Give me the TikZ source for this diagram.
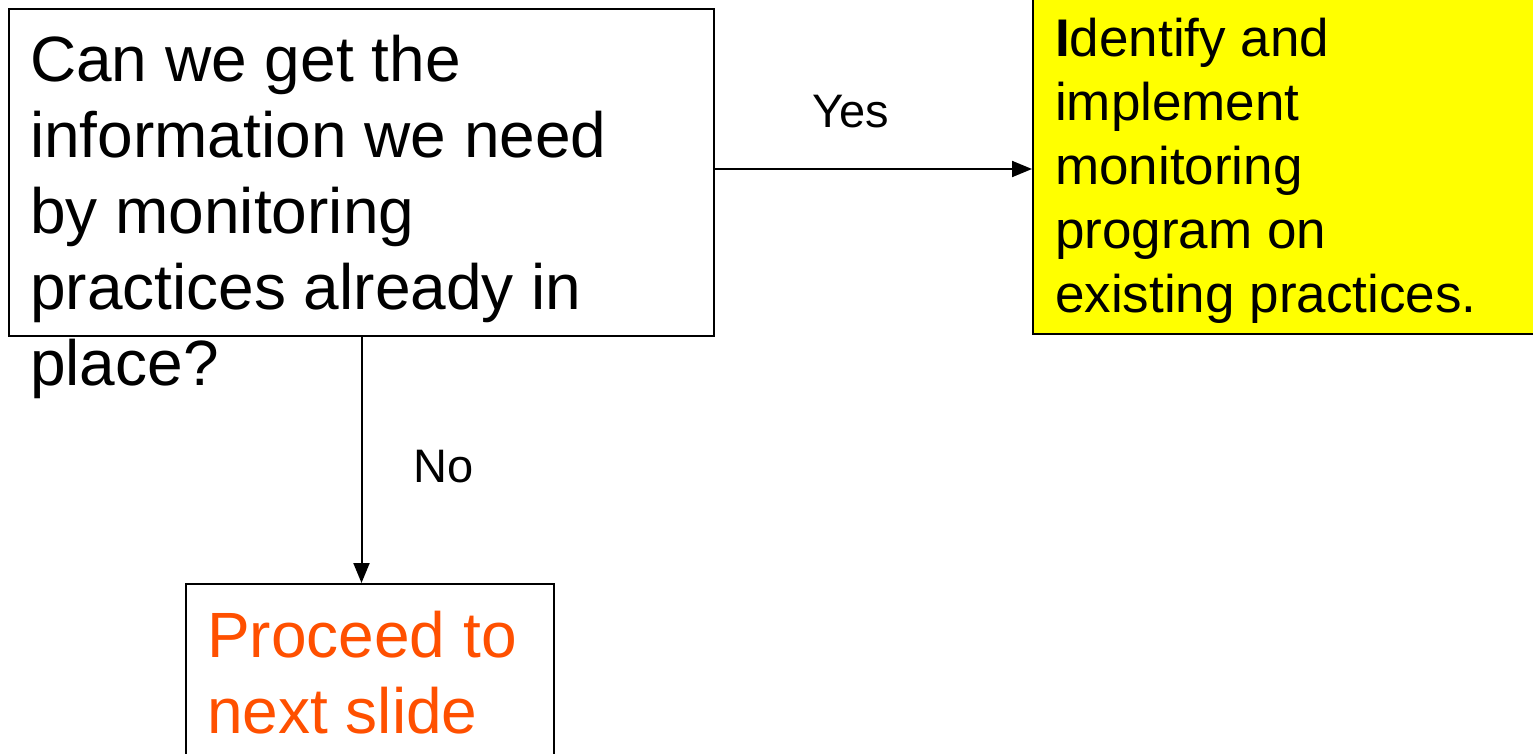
\documentclass[tikz,border=0pt]{standalone}
\usepackage{fontspec}
\setmainfont{Liberation Sans}
\usetikzlibrary{arrows.meta}
\definecolor{proceed}{RGB}{255,80,0}
\definecolor{hilite}{RGB}{255,255,0}
\begin{document}
\begin{tikzpicture}[x=1pt,y=-1pt,
 boxline/.style={draw=black,line width=2pt,inner sep=0pt,anchor=north west},
 bigtext/.style={font=\fontsize{64}{76}\selectfont, inner sep=0pt, align=left, anchor=base west},
 ytext/.style={font=\fontsize{53}{64}\selectfont, inner sep=0pt, align=left, anchor=base west},
 lbl/.style={font=\fontsize{47}{56}\selectfont, inner sep=0pt, anchor=base west},
 conn/.style={line width=2pt, -{Triangle[length=20pt,width=16pt]}}]
\fill[white] (0,0) rectangle (1533,754);
\useasboundingbox (0,0) rectangle (1533,754);
\node[boxline, minimum width=705pt, minimum height=327pt] (q) at (8,8) {};
\node[boxline, fill=hilite, minimum width=520pt, minimum height=343pt] (act) at (1032,-10) {};
\node[boxline, minimum width=368pt, minimum height=200pt] (next) at (185,583) {};
\node[bigtext] (qt) at (30,385) {Can we get the\\information we need\\by monitoring\\practices already in\\place?};
\node[ytext] (at) at (1055,312) {\textbf{I}dentify and\\implement\\monitoring\\program on\\existing practices.};
\node[bigtext, text=proceed] (pt) at (207,733) {Proceed to\\next slide};
\node[lbl] (yes) at (812,128) {Yes};
\node[lbl] (no) at (413,482) {No};
\coordinate (qe) at ([yshift=3.5pt]q.east);
\draw[conn] (qe) -- (act.west |- qe);
\draw[conn] (q.south) -- (q.south |- next.north);
\end{tikzpicture}
\end{document}
